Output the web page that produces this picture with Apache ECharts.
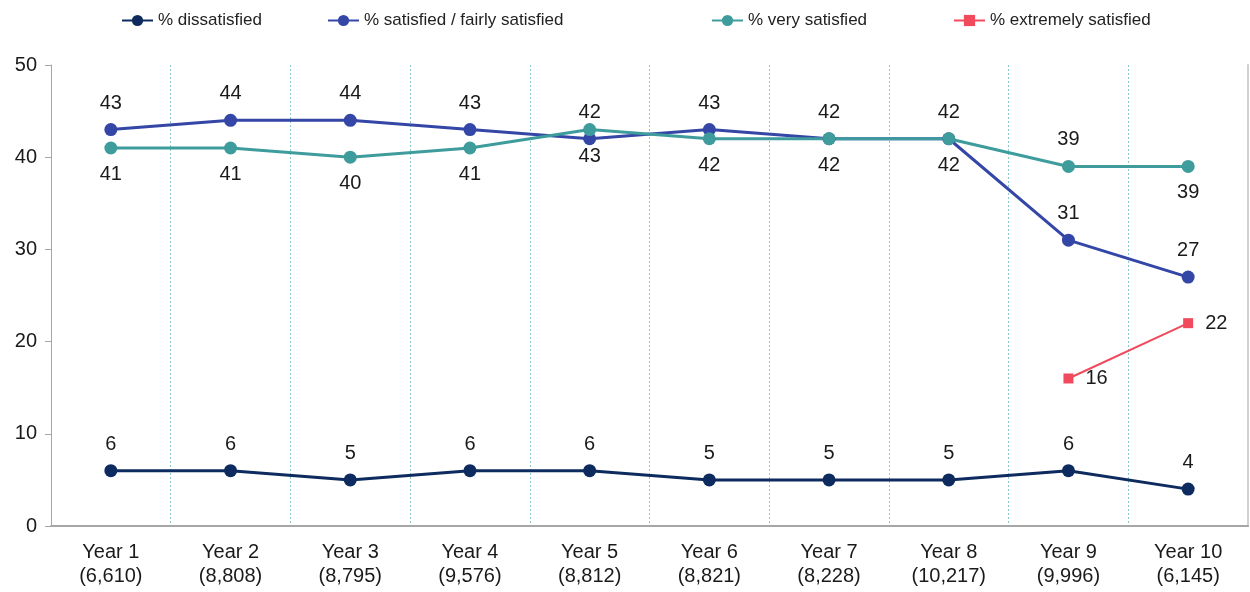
<!DOCTYPE html>
<html><head><meta charset="utf-8">
<script src="https://cdn.jsdelivr.net/npm/echarts@6/dist/echarts.min.js"></script>
<style>html,body{margin:0;padding:0;background:#fff}#c{width:1250px;height:592px}</style>
</head><body><div id="c"></div>
<script>
const categories = ['Year 1\n(6,610)','Year 2\n(8,808)','Year 3\n(8,795)','Year 4\n(9,576)','Year 5\n(8,812)','Year 6\n(8,821)','Year 7\n(8,228)','Year 8\n(10,217)','Year 9\n(9,996)','Year 10\n(6,145)'];
const dissatisfied = [6,6,5,6,6,5,5,5,6,4];
const satisfied = [43,44,44,43,42,43,42,42,31,27];
const verySatisfied = [41,41,40,41,43,42,42,42,39,39];
const extremelySatisfied = [null,null,null,null,null,null,null,null,16,22];
const yTicks = [0,10,20,30,40,50];

const satPos = ['top','top','top','top','top','top','top','top','top','top'];
const veryPos = ['bottom','bottom','bottom','bottom','bottom','bottom','bottom','bottom','top','bottom'];

const C = {dis:'#0d2b5e', sat:'#3446a6', very:'#3e9c9c', ext:'#f04a5c'};
const lbl = {color:'#1a1a1a', fontSize:20, fontFamily:'Liberation Sans, Arial, sans-serif', distance:10};

function withPos(vals, pos){ return vals.map((v,i)=>({value:v, label:{position:pos[i]}})); }

const chart = echarts.init(document.getElementById('c'));
const legendBase = {top:7, itemWidth:31, itemHeight:14, textStyle:{fontSize:17, color:'#222', fontFamily:'Liberation Sans, Arial, sans-serif'}, itemGap:4};
chart.setOption({
  animation:false,
  textStyle:{fontFamily:'Liberation Sans, Arial, sans-serif'},
  legend:[
    Object.assign({left:116, data:['% dissatisfied']}, legendBase),
    Object.assign({left:322, data:['% satisfied / fairly satisfied']}, legendBase),
    Object.assign({left:706, data:['% very satisfied']}, legendBase),
    Object.assign({left:948, data:['% extremely satisfied']}, legendBase)
  ],
  grid:{left:51, right:2, top:65, bottom:66},
  xAxis:{type:'category', data:categories, boundaryGap:true,
    axisLine:{lineStyle:{color:'#a6a6a6', width:2}},
    axisTick:{show:false},
    axisLabel:{fontSize:20, color:'#1a1a1a', lineHeight:24, margin:14, interval:0},
    splitLine:{show:true, interval:0, lineStyle:{color:'#8cc9c9', type:[2,2], width:1}}
  },
  yAxis:[{type:'value', min:0, max:50, interval:10,
    axisLine:{show:true, lineStyle:{color:'#a6a6a6', width:1}},
    axisTick:{show:true, length:6, lineStyle:{color:'#a6a6a6'}},
    axisLabel:{fontSize:20, color:'#1a1a1a', margin:14, formatter:v=>yTicks.includes(v)?String(v):''},
    splitLine:{show:false}
  },{type:'value', min:0, max:50, interval:10, position:'right',
    axisLine:{show:true, lineStyle:{color:'#d0d0d0', width:2}},
    axisTick:{show:false}, axisLabel:{show:false}, splitLine:{show:false}}],
  series:[
    {name:'% dissatisfied', type:'line', data:dissatisfied, color:C.dis, symbol:'circle', symbolSize:13,
      lineStyle:{width:3}, label:Object.assign({show:true, position:'top'}, lbl)},
    {name:'% satisfied / fairly satisfied', type:'line', data:withPos(satisfied,satPos), color:C.sat, symbol:'circle', symbolSize:13,
      lineStyle:{width:3}, label:Object.assign({show:true}, lbl)},
    {name:'% very satisfied', type:'line', data:withPos(verySatisfied,veryPos), color:C.very, symbol:'circle', symbolSize:13,
      lineStyle:{width:3}, label:Object.assign({show:true}, lbl)},
    {name:'% extremely satisfied', type:'line', data:extremelySatisfied, color:C.ext, symbol:'rect', symbolSize:10,
      lineStyle:{width:2}, label:Object.assign({show:true, position:'right'}, lbl, {distance:12})}
  ]
});
</script></body></html>
